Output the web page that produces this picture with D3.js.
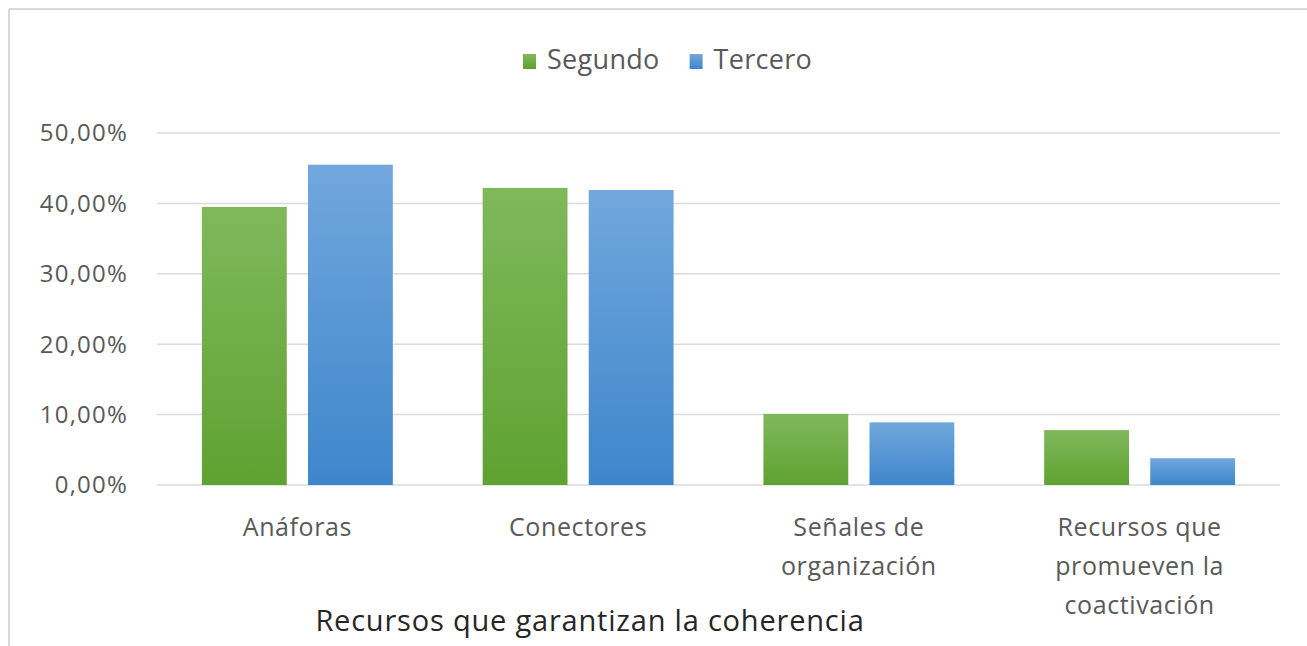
<!DOCTYPE html>
<html>
<head>
<meta charset="utf-8">
<script src="https://cdn.jsdelivr.net/npm/d3@7"></script>
<style>
  body { margin: 0; background: #fff; }
  text { font-family: "Open Sans", "Noto Sans", sans-serif; }
</style>
</head>
<body>
<svg id="chart" width="1307" height="646"></svg>
<script>
// data
const categories = [
    ["Anáforas"],
    ["Conectores"],
    ["Señales de", "organización"],
    ["Recursos que", "promueven la", "coactivación"]
];
const seriesNames = ["Segundo", "Tercero"];
const segundo = [0.395, 0.422, 0.101, 0.078];
const tercero = [0.455, 0.419, 0.089, 0.038];
const yTicks = [0, 0.1, 0.2, 0.3, 0.4, 0.5];
const xTitle = "Recursos que garantizan la coherencia";

const colors = {
    "Segundo": ["#80b85c", "#5fa231"],
    "Tercero": ["#71a7dd", "#3e86cb"]
};

let svg = d3.select("#chart");

// chart frame (only top and left edges are visible)
svg.append("line").attr("x1", 9).attr("x2", 1307).attr("y1", 9).attr("y2", 9)
    .attr("stroke", "#d9d9d9").attr("stroke-width", 2);
svg.append("line").attr("x1", 9).attr("x2", 9).attr("y1", 9).attr("y2", 646)
    .attr("stroke", "#d9d9d9").attr("stroke-width", 2);

let defs = svg.append("defs");
seriesNames.forEach(function (s, i) {
    let g = defs.append("linearGradient").attr("id", "grad" + i)
        .attr("x1", 0).attr("x2", 0).attr("y1", 0).attr("y2", 1);
    g.append("stop").attr("offset", "0%").attr("stop-color", colors[s][0]);
    g.append("stop").attr("offset", "100%").attr("stop-color", colors[s][1]);
});

let plot = {left: 157, right: 1280, top: 133, bottom: 485};

let y = d3.scaleLinear().domain([0, 0.5]).range([plot.bottom, plot.top]);
let x = d3.scaleBand().domain(d3.range(categories.length))
    .range([plot.left, plot.right]).paddingInner(0.32).paddingOuter(0.16);
let xSub = d3.scaleBand().domain(seriesNames).range([0, x.bandwidth()]).paddingInner(0.2);

// gridlines
svg.append("g").selectAll("line").data(yTicks).enter().append("line")
    .attr("x1", plot.left).attr("x2", plot.right)
    .attr("y1", d => y(d)).attr("y2", d => y(d))
    .attr("stroke", "#dadae0").attr("stroke-width", 1.5);

// y tick labels
let fmt = d => d3.format(".2f")(d * 100).replace(".", ",") + "%";
svg.append("g").selectAll("text").data(yTicks).enter().append("text")
    .attr("x", 128).attr("y", d => y(d)).attr("dy", "0.35em")
    .attr("text-anchor", "end").attr("font-size", 24).attr("letter-spacing", 1.2)
    .attr("fill", "#595959")
    .text(fmt);

// bars
let rows = categories.map(function (c, i) {
    return [{s: "Segundo", i: i, v: segundo[i]}, {s: "Tercero", i: i, v: tercero[i]}];
});
let groups = svg.append("g").selectAll("g").data(rows).enter().append("g")
    .attr("transform", (d, i) => "translate(" + x(i) + ",0)");
groups.selectAll("rect").data(d => d).enter().append("rect")
    .attr("x", d => xSub(d.s))
    .attr("width", xSub.bandwidth())
    .attr("y", d => y(d.v))
    .attr("height", d => y(0) - y(d.v))
    .attr("fill", d => "url(#grad" + seriesNames.indexOf(d.s) + ")");

// category labels
let cat = svg.append("g").selectAll("text").data(categories).enter().append("text")
    .attr("text-anchor", "middle").attr("font-size", 25).attr("letter-spacing", 0.6)
    .attr("fill", "#595959")
    .attr("transform", (d, i) => "translate(" + (x(i) + x.bandwidth() / 2) + ",536)");
cat.selectAll("tspan").data(d => d).enter().append("tspan")
    .attr("x", 0).attr("y", (d, j) => j * 39)
    .text(d => d);

// axis title
svg.append("text").attr("x", 590).attr("y", 631)
    .attr("text-anchor", "middle").attr("font-size", 29).attr("letter-spacing", 0.8)
    .attr("fill", "#262626")
    .text(xTitle);

// legend
let legend = svg.append("g").attr("transform", "translate(523,0)");
let lx = 0;
seriesNames.forEach(function (s, i) {
    let item = legend.append("g").attr("transform", "translate(" + lx + ",0)");
    item.append("rect").attr("x", 0).attr("y", 54).attr("width", 13).attr("height", 15)
        .attr("fill", "url(#grad" + i + ")");
    let t = item.append("text").attr("x", 24).attr("y", 69)
        .attr("font-size", 27).attr("letter-spacing", 0.3)
        .attr("fill", "#595959").text(s);
    lx += 24 + t.node().getComputedTextLength() + 30;
});
</script>
</body>
</html>
